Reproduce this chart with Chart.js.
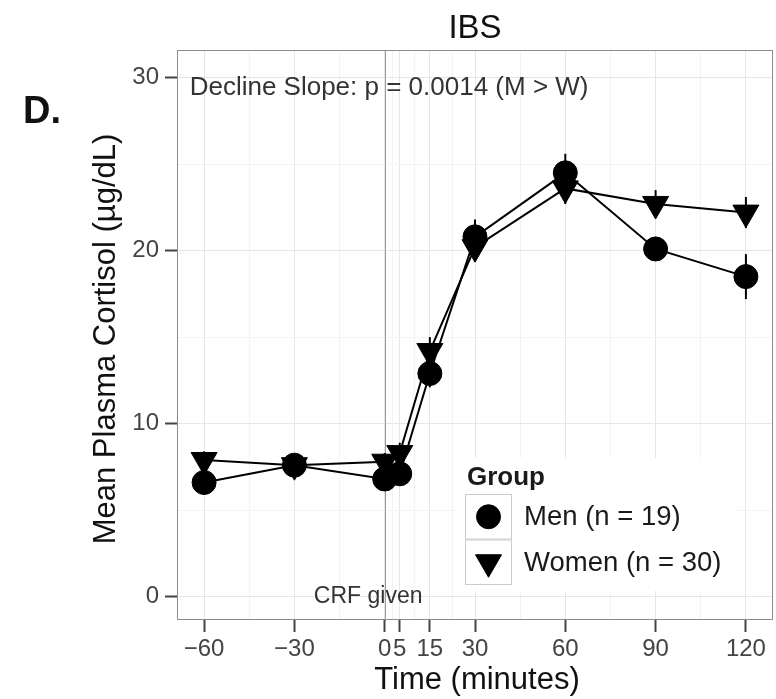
<!DOCTYPE html>
<html>
<head>
<meta charset="utf-8">
<script src="https://cdn.jsdelivr.net/npm/chart.js@4/dist/chart.umd.min.js"></script>
<style>
  html, body { margin: 0; padding: 0; background: #fff; overflow: hidden; }
  canvas { display: block; }
</style>
</head>
<body>
<canvas id="cortisolChart" width="776" height="699"></canvas>
<script>
// sampling times (minutes relative to CRF injection)
const timePoints = [-60, -30, 0, 5, 15, 30, 60, 90, 120];
const menCortisol = [6.6, 7.6, 6.8, 7.1, 12.9, 20.8, 24.5, 20.1, 18.5];
const menSE = [0.5, 0.5, 0.5, 0.6, 0.8, 1.0, 1.1, 0.7, 1.3];
const womenCortisol = [7.9, 7.6, 7.8, 8.3, 14.2, 20.2, 23.6, 22.7, 22.2];
const womenSE = [0.5, 0.5, 0.5, 0.6, 0.8, 0.8, 0.9, 0.8, 0.9];
const groupLabels = ['Men (n = 19)', 'Women (n = 30)'];

const xMajorTicks = [-60, -30, 0, 5, 15, 30, 60, 90, 120];
const xMinorTicks = [-45, -15, 2.5, 10, 22.5, 45, 75, 105];
const yMajorTicks = [0, 10, 20, 30];
const yMinorTicks = [5, 15, 25];

const FONT = "'Liberation Sans', Arial, Helvetica, sans-serif";
const GRID_MAJOR = '#e6e6e6';
const GRID_MINOR = '#f3f3f3';

function tickList(major, minor) {
  return major.concat(minor).sort((a, b) => a - b).map(v => ({ value: v }));
}
function fmt(v) {
  return v < 0 ? '\u2212' + Math.abs(v) : String(v);
}

const errorBars = {
  id: 'errorBars',
  beforeDatasetsDraw(chart) {
    const { ctx, scales: { x, y }, chartArea } = chart;
    // vertical reference line where CRF is given
    ctx.save();
    ctx.strokeStyle = '#9a9a9a';
    ctx.lineWidth = 1;
    const x0 = Math.round(x.getPixelForValue(0)) + 0.5;
    ctx.beginPath();
    ctx.moveTo(x0, chartArea.top);
    ctx.lineTo(x0, chartArea.bottom);
    ctx.stroke();

    ctx.strokeStyle = '#000';
    ctx.lineWidth = 2;
    chart.data.datasets.forEach((ds, i) => {
      const meta = chart.getDatasetMeta(i);
      ds.data.forEach((p, j) => {
        const px = meta.data[j].x;
        ctx.beginPath();
        ctx.moveTo(px, y.getPixelForValue(p.y + ds.errors[j]));
        ctx.lineTo(px, y.getPixelForValue(p.y - ds.errors[j]));
        ctx.stroke();
      });
    });
    ctx.restore();
  },
  afterDraw(chart) {
    const { ctx, scales: { x, y }, chartArea } = chart;
    const cx = (chartArea.left + chartArea.right) / 2;
    ctx.save();

    // panel border
    ctx.strokeStyle = '#8c8c8c';
    ctx.lineWidth = 1;
    ctx.strokeRect(chartArea.left + 0.5, chartArea.top + 0.5,
      chartArea.right - chartArea.left - 1, chartArea.bottom - chartArea.top - 1);

    ctx.textBaseline = 'middle';

    // annotations inside the panel
    ctx.fillStyle = '#333';
    ctx.font = `26px ${FONT}`;
    ctx.textAlign = 'left';
    ctx.fillText('Decline Slope: p = 0.0014 (M > W)', x.getPixelForValue(-64.8), y.getPixelForValue(29.4));
    ctx.font = `23px ${FONT}`;
    ctx.textAlign = 'center';
    ctx.fillText('CRF given', x.getPixelForValue(-5.5), y.getPixelForValue(0));

    // legend
    const lx = 465, ly = 494, kw = 47, kh = 45.5;
    ctx.fillStyle = '#fff';
    ctx.fillRect(lx - 8, ly - 36, 280, 2 * kh + 42);
    ctx.fillStyle = '#1a1a1a';
    ctx.font = `bold 26px ${FONT}`;
    ctx.textAlign = 'left';
    ctx.fillText('Group', lx + 2, ly - 16);
    chart.data.datasets.forEach((ds, i) => {
      const top = ly + i * kh;
      ctx.strokeStyle = '#cccccc';
      ctx.lineWidth = 1;
      ctx.strokeRect(lx + 0.5, top + 0.5, kw - 1, kh - 1);
      ctx.fillStyle = '#000';
      ctx.strokeStyle = '#000';
      Chart.helpers.drawPoint(ctx, {
        pointStyle: ds.pointStyle, radius: ds.pointRadius,
        rotation: ds.pointRotation || 0, borderWidth: 1
      }, lx + kw / 2, top + kh / 2);
      ctx.fillStyle = '#1a1a1a';
      ctx.font = `27.5px ${FONT}`;
      ctx.fillText(groupLabels[i], lx + kw + 12, top + kh / 2 + 1);
    });

    // titles
    ctx.fillStyle = '#111';
    ctx.textAlign = 'center';
    ctx.font = `33px ${FONT}`;
    ctx.fillText('IBS', cx, 29);
    ctx.font = `31px ${FONT}`;
    ctx.fillText('Time (minutes)', cx + 2, 680);
    ctx.save();
    ctx.translate(106, 339);
    ctx.rotate(-Math.PI / 2);
    ctx.font = `31px ${FONT}`;
    ctx.fillText('Mean Plasma Cortisol (\u00b5g/dL)', 0, 0);
    ctx.restore();
    ctx.textAlign = 'left';
    ctx.font = `bold 38px ${FONT}`;
    ctx.fillText('D.', 23, 113);
    ctx.restore();
  }
};

function series(vals) {
  return timePoints.map((t, i) => ({ x: t, y: vals[i] }));
}

new Chart(document.getElementById('cortisolChart'), {
  type: 'line',
  data: {
    datasets: [
      {
        label: groupLabels[0], data: series(menCortisol), errors: menSE,
        borderColor: '#000', backgroundColor: '#000', borderWidth: 2,
        pointStyle: 'circle', pointRadius: 12, pointBorderWidth: 1,
        pointBackgroundColor: '#000', pointBorderColor: '#000'
      },
      {
        label: groupLabels[1], data: series(womenCortisol), errors: womenSE,
        borderColor: '#000', backgroundColor: '#000', borderWidth: 2,
        pointStyle: 'triangle', pointRotation: 180, pointRadius: 15, pointBorderWidth: 1,
        pointBackgroundColor: '#000', pointBorderColor: '#000'
      }
    ]
  },
  options: {
    responsive: false,
    animation: false,
    // big markers would otherwise shrink the plot area
    layout: { autoPadding: false, padding: { top: 50, right: 3, left: 0, bottom: 0 } },
    plugins: { legend: { display: false }, tooltip: { enabled: false } },
    scales: {
      x: {
        type: 'linear', min: -69, max: 129,
        afterBuildTicks: s => { s.ticks = tickList(xMajorTicks, xMinorTicks); },
        afterFit: s => { s.height = 79; s.paddingLeft = 0; s.paddingRight = 0; },
        border: { display: false },
        grid: {
          color: c => xMajorTicks.includes(c.tick.value) ? GRID_MAJOR : GRID_MINOR,
          tickColor: c => xMajorTicks.includes(c.tick.value) ? '#444' : 'rgba(0,0,0,0)',
          tickLength: 12, tickWidth: 2
        },
        ticks: {
          autoSkip: false, maxRotation: 0, padding: 3,
          color: '#444', font: { family: FONT, size: 24 },
          callback: v => xMajorTicks.includes(v) ? fmt(v) : ''
        }
      },
      y: {
        min: -1.35, max: 31.6,
        afterBuildTicks: s => { s.ticks = tickList(yMajorTicks, yMinorTicks); },
        afterFit: s => { s.width = 177; s.paddingTop = 0; s.paddingBottom = 0; },
        border: { display: false },
        grid: {
          color: c => yMajorTicks.includes(c.tick.value) ? GRID_MAJOR : GRID_MINOR,
          tickColor: c => yMajorTicks.includes(c.tick.value) ? '#444' : 'rgba(0,0,0,0)',
          tickLength: 12, tickWidth: 2
        },
        ticks: {
          autoSkip: false, padding: 6,
          color: '#444', font: { family: FONT, size: 24 },
          callback: v => yMajorTicks.includes(v) ? fmt(v) : ''
        }
      }
    }
  },
  plugins: [errorBars]
});
</script>
</body>
</html>
